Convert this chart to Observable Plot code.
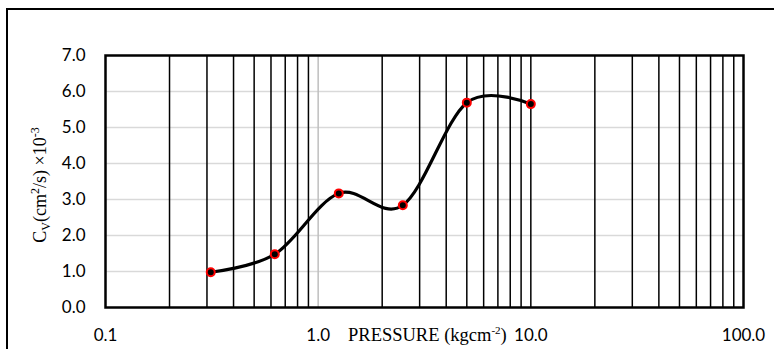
<!DOCTYPE html>
<html>
<head>
<meta charset="utf-8">
<script src="https://cdn.jsdelivr.net/npm/d3@7"></script>
<script src="https://cdn.jsdelivr.net/npm/@observablehq/plot@0.6"></script>
<style>
  html, body { margin: 0; padding: 0; background: #fff; overflow: hidden; }
  #wrap { position: relative; width: 774px; height: 349px; }
  #border { position: absolute; left: 6px; top: 8px; width: 900px; height: 500px; border: 2px solid #000; box-sizing: border-box; }
  #chart { position: absolute; left: 0; top: 0; }
  svg text.serif, svg text.serif tspan { font-family: "Liberation Serif", "Times New Roman", serif !important; }
</style>
</head>
<body>
<div id="wrap"><div id="border"></div><div id="chart"></div></div>
<script>
// Data
const pressure = [0.3125, 0.625, 1.25, 2.5, 5, 10];
const cv = [0.98, 1.48, 3.17, 2.84, 5.69, 5.65];
const xTicks = [0.1, 1, 10, 100];
const yTicks = [0, 1, 2, 3, 4, 5, 6, 7];
const hGrid = [1, 2, 3, 4, 5, 6];
const majorGrid = [1];
const minorGrid = [0.2, 0.3, 0.4, 0.5, 0.6, 0.7, 0.8, 0.9,
                   2, 3, 4, 5, 6, 7, 8, 9, 10,
                   20, 30, 40, 50, 60, 70, 80, 90];

const data = pressure.map((p, i) => ({p, cv: cv[i]}));

const chart = Plot.plot({
  width: 774,
  height: 349,
  marginLeft: 105,
  marginRight: 31,
  marginTop: 55,
  marginBottom: 42,
  style: {background: "transparent", fontFamily: "Lato, 'Open Sans', sans-serif", fontSize: "17px", color: "#000"},
  x: {type: "log", domain: [0.1, 100]},
  y: {domain: [0, 7]},
  marks: [
    Plot.ruleY(hGrid, {stroke: "#d9d9d9", strokeWidth: 1.5}),
    Plot.ruleX(minorGrid, {stroke: "#000", strokeWidth: 1.5}),
    Plot.ruleX(majorGrid, {stroke: "#bfbfbf", strokeWidth: 1.5}),
    Plot.line(data, {x: "p", y: "cv", curve: "cardinal", stroke: "#000", strokeWidth: 3.2}),
    Plot.dot(data, {x: "p", y: "cv", r: 4, fill: "#000", stroke: "#ff0000", strokeWidth: 2}),
    Plot.frame({stroke: "#000", strokeWidth: 2.5}),
    Plot.axisY({ticks: yTicks, tickFormat: d => d.toFixed(1), tickSize: 0, tickPadding: 20, label: null, fill: "#000"}),
    Plot.axisX({ticks: xTicks, tickFormat: d => d.toFixed(1), tickSize: 0, tickPadding: 21, label: null, fill: "#000"})
  ]
});
document.getElementById("chart").appendChild(chart);

const svg = d3.select(chart);
// X axis title
const xt = svg.append("text")
  .attr("class", "serif")
  .attr("x", 348).attr("y", 341)
  .attr("text-anchor", "start")
  .style("font-size", "18.5px").attr("fill", "#000");
xt.append("tspan").text("PRESSURE (kgcm");
xt.append("tspan").style("font-size", "11px").attr("dy", -7).text("-2");
xt.append("tspan").attr("dy", 7).text(")");

// Y axis title
const yt = svg.append("text")
  .attr("class", "serif")
  .attr("transform", "translate(46,185) rotate(-90)")
  .attr("text-anchor", "middle")
  .style("font-size", "18px").attr("fill", "#000");
yt.append("tspan").text("C");
yt.append("tspan").style("font-size", "12px").attr("dy", 4).text("V");
yt.append("tspan").attr("dy", -4).text("(cm");
yt.append("tspan").style("font-size", "12px").attr("dy", -7).text("2");
yt.append("tspan").attr("dy", 7).text("/s) \u00d710");
yt.append("tspan").style("font-size", "12px").attr("dy", -7).text("-3");
</script>
</body>
</html>
